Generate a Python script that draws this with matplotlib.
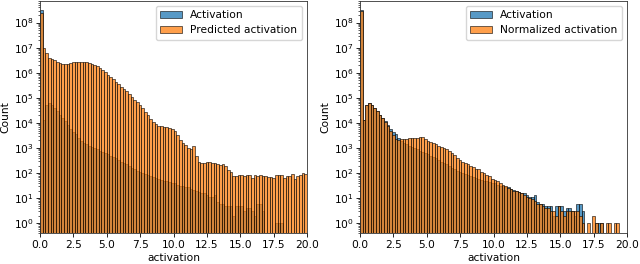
import matplotlib
matplotlib.use("Agg")
import matplotlib.pyplot as plt
import numpy as np

# Histogram bins: 100 bins of width 0.2 between 0 and 20
bin_edges = [round(0.2 * i, 1) for i in range(100)]
bin_width = 0.2

activation = [
    316000000, 13200, 51300, 63000, 52500, 39800, 30900, 21400, 15800, 11500,
    8500, 6000, 4200, 3550, 2500, 1900, 1580, 1410, 1260, 1120,
    1000, 890, 790, 710, 660, 560, 500, 450, 400, 330,
    280, 250, 224, 190, 166, 141, 126, 112, 100, 93,
    85, 79, 71, 66, 60, 54, 50, 48, 45, 42,
    40, 35, 32, 30, 28, 29, 24, 21, 20, 18,
    16, 16, 13, 11, 11, 13, 7, 6, 6, 5,
    5, 5, 2, 5, 5, 5, 3, 4, 4, 3,
    2, 6, 6, 3, 0, 0, 0, 0, 1, 1,
    1, 0, 0, 0, 0, 0, 0, 0, 0, 0,
]

predicted_activation = [
    250000000, 10000000, 6300000, 4000000, 3400000, 3100000, 2700000, 2350000, 2200000, 2150000,
    2250000, 2400000, 2570000, 2700000, 2800000, 2800000, 2750000, 2630000, 2450000, 2240000,
    2000000, 1780000, 1550000, 1290000, 1050000, 830000, 676000, 550000, 437000, 355000,
    282000, 229000, 182000, 145000, 112000, 85000, 68000, 52000, 40000, 28000,
    20000, 14000, 10500, 8900, 7900, 7400, 6900, 6600, 6200, 5750,
    5000, 3200, 2100, 1660, 1320, 1050, 910, 1260, 500, 280,
    250, 263, 275, 270, 263, 250, 230, 214, 224, 200,
    132, 112, 74, 79, 83, 83, 79, 85, 83, 63,
    83, 79, 87, 76, 79, 71, 68, 66, 85, 83,
    85, 66, 76, 79, 89, 60, 79, 85, 100, 93,
]

normalized_activation = [
    295000000, 13200, 51300, 63000, 52500, 38000, 30900, 20400, 15100, 10500,
    7600, 5000, 3200, 2400, 2140, 2240, 2340, 2400, 2500, 2500,
    2630, 2500, 2800, 2750, 2400, 1860, 1780, 1580, 1410, 1200,
    1120, 1050, 890, 760, 630, 525, 417, 331, 282, 263,
    240, 190, 178, 151, 141, 112, 100, 85, 79, 60,
    52, 48, 42, 35, 32, 26, 24, 20, 19, 18,
    16, 14, 11, 10, 9, 8, 6, 6, 5, 4,
    4, 3, 3, 2, 5, 3, 2, 3, 3, 3,
    3, 3, 2, 1, 0, 1, 0, 2, 1, 0,
    1, 0, 1, 1, 0, 1, 1, 0, 0, 0,
]

panels = [
    ("Activation", activation, "Predicted activation", predicted_activation),
    ("Activation", activation, "Normalized activation", normalized_activation),
]

FS = 7.7
plt.rcParams.update({
    "font.family": "DejaVu Sans",
    "font.size": FS,
    "axes.linewidth": 0.6,
    "xtick.major.width": 0.6,
    "ytick.major.width": 0.6,
    "xtick.minor.width": 0.45,
    "ytick.minor.width": 0.45,
    "xtick.major.size": 2.7,
    "ytick.major.size": 2.7,
    "ytick.minor.size": 1.5,
})

fig = plt.figure(figsize=(6.4, 2.64), dpi=100)
axes_rects = [
    [40 / 640, 1 - 233.3 / 264, 267 / 640, 232.8 / 264],
    [360 / 640, 1 - 233.3 / 264, 267 / 640, 232.8 / 264],
]

blue = "#1f77b4"
orange = "#ff7f0e"

for rect, (lab1, d1, lab2, d2) in zip(axes_rects, panels):
    ax = fig.add_axes(rect)
    ax.bar(bin_edges, d1, width=bin_width, align="edge",
           facecolor=matplotlib.colors.to_rgba(blue, 0.75),
           edgecolor="black", linewidth=0.4, label=lab1)
    ax.bar(bin_edges, d2, width=bin_width, align="edge",
           facecolor=matplotlib.colors.to_rgba(orange, 0.75),
           edgecolor="black", linewidth=0.4, label=lab2)
    ax.set_yscale("log")
    ax.set_xlim(0, 20)
    ax.set_ylim(0.4, 7.6e8)
    ax.set_xticks([0, 2.5, 5, 7.5, 10, 12.5, 15, 17.5, 20])
    ax.set_xticklabels(["0.0", "2.5", "5.0", "7.5", "10.0", "12.5", "15.0", "17.5", "20.0"])
    ax.set_yticks([10.0 ** k for k in range(0, 9)])
    ax.set_xlabel("activation", fontsize=FS, labelpad=2)
    ax.set_ylabel("Count", fontsize=FS, labelpad=2)
    ax.tick_params(labelsize=FS, pad=2)
    for s in ax.spines.values():
        s.set_color("#333333")
    ax.legend(loc="upper right", fontsize=FS, borderaxespad=0.5,
              handlelength=2.0)

fig.savefig("out.png", dpi=100)
